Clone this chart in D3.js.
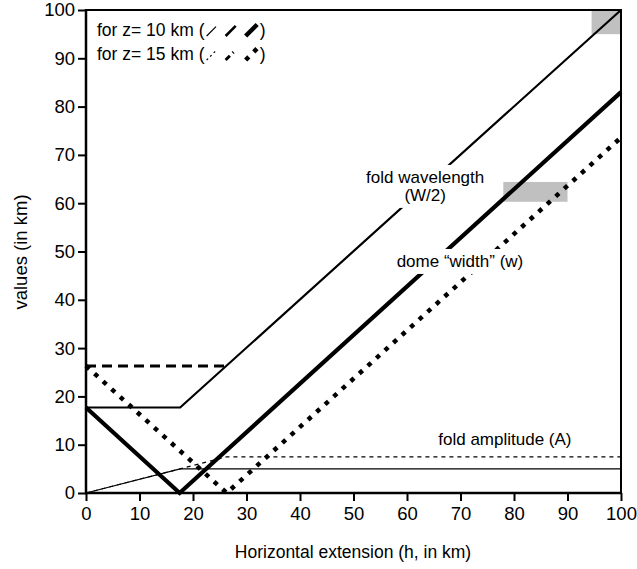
<!DOCTYPE html>
<html><head><meta charset="utf-8">
<script src="https://cdn.jsdelivr.net/npm/d3@7"></script>
<style>
body{margin:0;background:#fff;}
text{font-family:"Liberation Sans",Arial,Helvetica,sans-serif;fill:#000;}
</style></head>
<body><svg id="c" width="637" height="569"></svg>
<script>
// ---- data (km) ----
const xTicks = [0,10,20,30,40,50,60,70,80,90,100];
const yTicks = [0,10,20,30,40,50,60,70,80,90,100];
// z = 10 km
const wavelength10 = [[0,17.7],[17.6,17.7],[100,100]];
const dome10       = [[0,17.7],[17.5,0],[100,83]];
const amplitude10  = [[0,0],[17.6,5],[100,5]];
// z = 15 km
const wavelength15 = [[0,26.3],[26.2,26.3]];
const dome15       = [[0,26.3],[26.3,0],[100,73.6]];
const amplitude15  = [[0,0],[26.3,7.5],[100,7.5]];
// shaded boxes [x0,x1,y0,y1]
const shades = [[94.5,100,95,100],[78,90,60.3,64.4]];
const labels = [
  {lines:["fold wavelength","(W/2)"], x:63.4, y:64.2},
  {lines:["dome \u201cwidth\u201d (w)"], x:69.9, y:46.8},
  {lines:["fold amplitude (A)"], x:78.3, y:10.0}
];
const legendRows = ["for z= 10 km (", "for z= 15 km ("];

const svg = d3.select("#c");
const x = d3.scaleLinear().domain([0,100]).range([86,621]);
const y = d3.scaleLinear().domain([0,100]).range([493,10]);
const line = d3.line().x(d=>x(d[0])).y(d=>y(d[1]));

// shaded rectangles
svg.selectAll("rect.shade").data(shades).join("rect")
  .attr("x",d=>x(d[0])).attr("y",d=>y(d[3]))
  .attr("width",d=>x(d[1])-x(d[0])).attr("height",d=>y(d[2])-y(d[3]))
  .attr("fill","#c0c0c0");

const series = [
  {d:amplitude15, w:1.2, dash:"4,4"},
  {d:amplitude10, w:1.2, dash:null},
  {d:wavelength15, w:3, dash:"10,6"},
  {d:wavelength10, w:2.2, dash:null},
  {d:dome15, w:4.5, dash:"4.5,7"},
  {d:dome10, w:4.2, dash:null}
];
series.forEach(s=>{
  svg.append("path").attr("d",line(s.d)).attr("fill","none")
    .attr("stroke","#000").attr("stroke-width",s.w)
    .attr("stroke-dasharray",s.dash).attr("stroke-linecap","butt")
    .attr("stroke-linejoin","miter");
});

// labels with white background
labels.forEach(L=>{
  const g = svg.append("g");
  const r = g.append("rect").attr("fill","#fff");
  const t = g.append("text").attr("font-size",17).attr("text-anchor","middle");
  L.lines.forEach((s,i)=>{
    t.append("tspan").attr("x",x(L.x)).attr("y",y(L.y)+i*18).text(s);
  });
  const b = t.node().getBBox();
  r.attr("x",b.x-5).attr("y",b.y-3).attr("width",b.width+10).attr("height",b.height+6);
});

// axes
const xAxis = svg.append("g").attr("transform","translate(0,493)")
  .call(d3.axisBottom(x).tickValues(xTicks).tickSize(8).tickPadding(6).tickFormat(d3.format("d")));
const yAxis = svg.append("g").attr("transform","translate(86,0)")
  .call(d3.axisLeft(y).tickValues(yTicks).tickSize(8).tickPadding(3).tickFormat(d3.format("d")));
[xAxis,yAxis].forEach(a=>{
  a.select(".domain").remove();
  a.selectAll(".tick line").attr("stroke","#000").attr("stroke-width",2);
  a.selectAll(".tick text").attr("font-size",18.5).attr("font-family","Liberation Sans, Arial, sans-serif").attr("fill","#000");
});
// frame
svg.append("line").attr("x1",86).attr("x2",86).attr("y1",9).attr("y2",494).attr("stroke","#000").attr("stroke-width",2.5);
svg.append("line").attr("x1",85).attr("x2",622).attr("y1",493).attr("y2",493).attr("stroke","#000").attr("stroke-width",2.5);
svg.append("line").attr("x1",85).attr("x2",622).attr("y1",10).attr("y2",10).attr("stroke","#000").attr("stroke-width",2);
svg.append("line").attr("x1",621).attr("x2",621).attr("y1",9).attr("y2",494).attr("stroke","#000").attr("stroke-width",2);

// axis titles
svg.append("text").attr("x",353).attr("y",558).attr("text-anchor","middle").attr("font-size",17.5)
  .text("Horizontal extension (h, in km)");
svg.append("text").attr("transform","translate(27,252) rotate(-90)").attr("text-anchor","middle").attr("font-size",18.5)
  .text("values (in km)");

// legend
legendRows.forEach((s,i)=>{
  const by = 36 + i*24;
  const t = svg.append("text").attr("x",97).attr("y",by).attr("font-size",17.5).text(s);
  const bb = t.node().getBBox();
  const ex = bb.x + bb.width;
  const samples = i===0
    ? [{w:1.2,dash:null,len:13},{w:2.6,dash:null,len:14},{w:4.5,dash:null,len:16}]
    : [{w:1.2,dash:"2,3",len:12},{w:3,dash:"6,4",len:11},{w:4.5,dash:"4.5,7",len:16}];
  const xs=[ex+2, ex+21, ex+41];
  samples.forEach((m,j)=>{
    svg.append("line").attr("x1",xs[j]).attr("y1",by).attr("x2",xs[j]+m.len*0.72).attr("y2",by-m.len*0.72)
      .attr("stroke","#000").attr("stroke-width",m.w).attr("stroke-dasharray",m.dash);
  });
  svg.append("text").attr("x",ex+55).attr("y",by).attr("font-size",17.5).text(")");
});
</script></body></html>
